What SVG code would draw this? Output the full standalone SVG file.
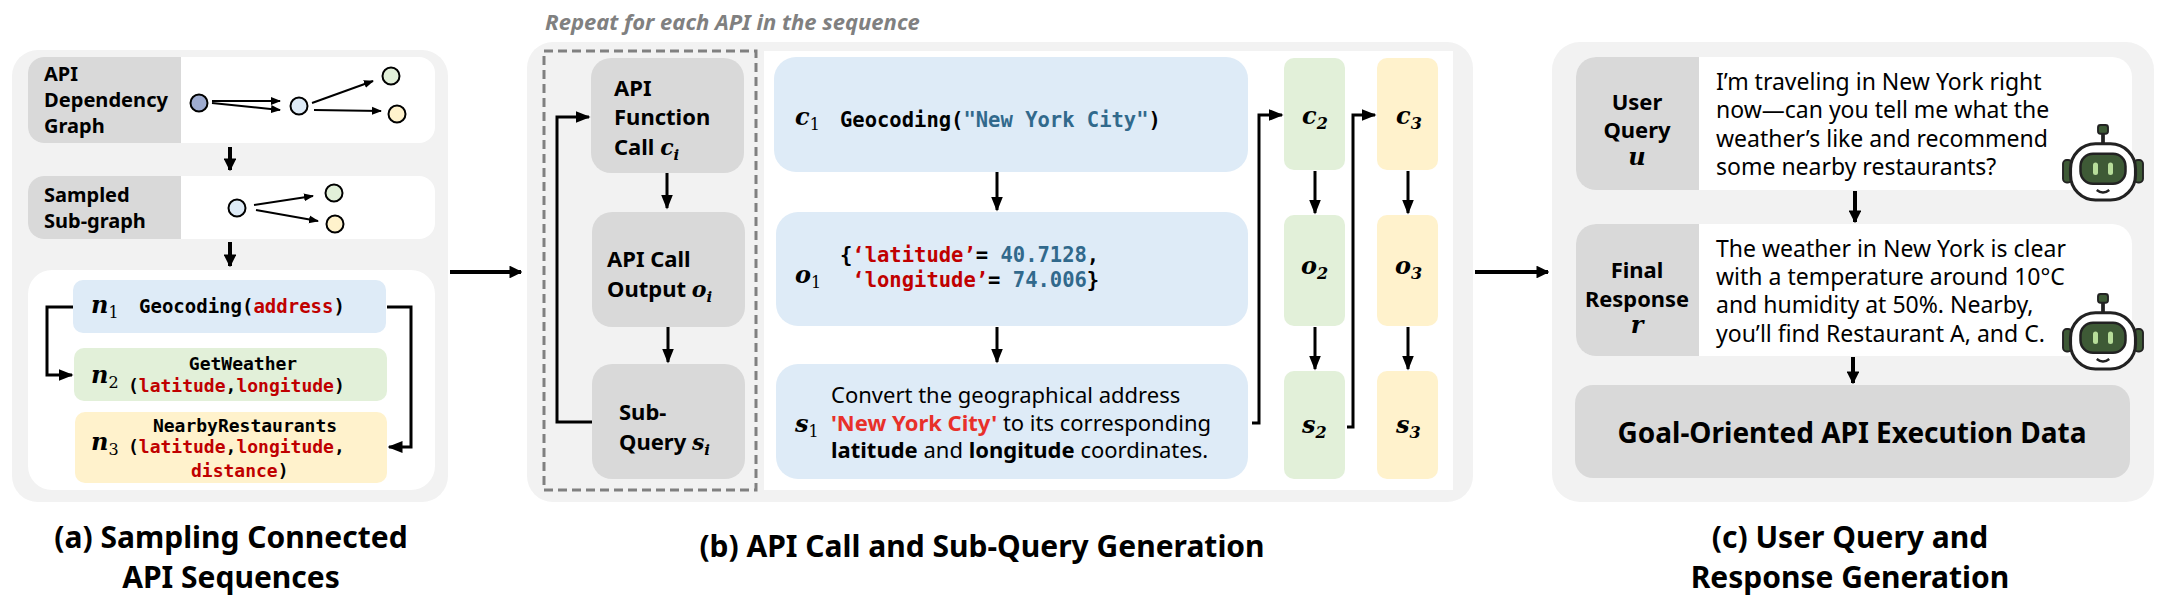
<svg xmlns="http://www.w3.org/2000/svg" width="2164" height="616" viewBox="0 0 2164 616">
<defs>
<style>
.pan{fill:#f2f2f2}
.wh{fill:#ffffff}
.lab{fill:#d9d9d9}
.bl{fill:#deebf7}
.gr{fill:#e2f0d9}
.ye{fill:#fff2cc}
.t{font-family:"Noto Sans","DejaVu Sans",sans-serif;fill:#000}
.b{font-weight:bold}
.m{font-family:"DejaVu Sans Mono","Liberation Mono",monospace;font-weight:bold;fill:#000}
.r{fill:#c00000}
.cb{fill:#31698c}
.mi{font-family:"DejaVu Serif","Liberation Serif",serif;font-style:italic;font-weight:bold;fill:#000}
.ln{stroke:#000;stroke-width:4;fill:none}
.thin{stroke:#000;stroke-width:2;fill:none}
.nd{stroke:#000;stroke-width:2}
</style>
<marker id="ah" viewBox="0 0 10 10" refX="9" refY="5" markerWidth="3.2" markerHeight="3.2" orient="auto"><path d="M0,0L10,5L0,10z" fill="#000"/></marker>
<marker id="as" viewBox="0 0 10 10" refX="9" refY="5" markerWidth="5" markerHeight="5" orient="auto"><path d="M0,1L10,5L0,9z" fill="#000"/></marker>
<g id="robot">
<line x1="0" y1="-30" x2="0" y2="-20" stroke="#222" stroke-width="3"/>
<rect x="-4" y="-36" width="8" height="7" rx="2" fill="#3e5a36" stroke="#222" stroke-width="1.5"/>
<rect x="-32" y="-8" width="7" height="18" rx="3" fill="#3e5a36" stroke="#222" stroke-width="1.5"/>
<rect x="25" y="-8" width="7" height="18" rx="3" fill="#3e5a36" stroke="#222" stroke-width="1.5"/>
<rect x="-26" y="-21" width="52" height="45" rx="20" fill="#fff" stroke="#222" stroke-width="2.5"/>
<rect x="-18" y="-13" width="36" height="24" rx="10" fill="#3e5a36" stroke="#222" stroke-width="2"/>
<rect x="-8" y="-6" width="4" height="10" rx="2" fill="#b7dd9a"/>
<rect x="4" y="-6" width="4" height="10" rx="2" fill="#b7dd9a"/>
<path d="M-5,16 Q0,20 5,16" stroke="#222" stroke-width="2" fill="none"/>
</g>
</defs>
<rect width="2164" height="616" fill="#fff"/>

<g id="panel-a">
<rect class="pan" x="12" y="50" width="436" height="452" rx="26"/>
<g id="dep-graph">
<rect class="wh" x="28" y="57" width="407" height="86" rx="16"/>
<path class="lab" d="M44,57H181V143H44A16,16 0 0 1 28,127V73A16,16 0 0 1 44,57z"/>
<text class="t b" font-size="20" x="44" y="81">API</text>
<text class="t b" font-size="20" x="44" y="107" textLength="124" lengthAdjust="spacingAndGlyphs">Dependency</text>
<text class="t b" font-size="20" x="44" y="133">Graph</text>
<circle class="nd" cx="199" cy="103" r="8.5" fill="#9eabcf"/>
<circle class="nd" cx="299" cy="106" r="8.5" fill="#deebf7"/>
<circle class="nd" cx="391" cy="76" r="8.5" fill="#e2f0d9"/>
<circle class="nd" cx="397" cy="114" r="8.5" fill="#fff2cc"/>
<line class="thin" x1="212" y1="101" x2="280" y2="101" marker-end="url(#as)"/>
<line class="thin" x1="212" y1="103" x2="280" y2="110" marker-end="url(#as)"/>
<line class="thin" x1="312" y1="103" x2="373" y2="81" marker-end="url(#as)"/>
<line class="thin" x1="314" y1="110" x2="381" y2="111" marker-end="url(#as)"/>
</g>
<g id="subgraph">
<rect class="wh" x="28" y="176" width="407" height="63" rx="16"/>
<path class="lab" d="M44,176H181V239H44A16,16 0 0 1 28,223V192A16,16 0 0 1 44,176z"/>
<text class="t b" font-size="20" x="44" y="202">Sampled</text>
<text class="t b" font-size="20" x="44" y="228">Sub-graph</text>
<circle class="nd" cx="237" cy="208" r="8.5" fill="#deebf7"/>
<circle class="nd" cx="334" cy="193" r="8.5" fill="#e2f0d9"/>
<circle class="nd" cx="335" cy="224" r="8.5" fill="#fff2cc"/>
<line class="thin" x1="254" y1="205" x2="313" y2="196" marker-end="url(#as)"/>
<line class="thin" x1="256" y1="210" x2="318" y2="221" marker-end="url(#as)"/>
</g>
<rect class="wh" x="28" y="270" width="407" height="220" rx="24"/>
<g id="n1">
<rect class="bl" x="73" y="280" width="313" height="53" rx="10"/>
<text class="mi" font-size="24" x="91" y="313">n<tspan font-size="16" dy="5" font-style="normal" font-weight="normal">1</tspan></text>
<text class="m" font-size="19" x="139" y="313">Geocoding(<tspan class="r">address</tspan>)</text>
</g>
<g id="n2">
<rect class="gr" x="74" y="348" width="313" height="53" rx="10"/>
<text class="mi" font-size="24" x="91" y="383">n<tspan font-size="16" dy="5" font-style="normal" font-weight="normal">2</tspan></text>
<text class="m" font-size="18" x="243" y="370" text-anchor="middle">GetWeather</text>
<text class="m" font-size="18" x="128" y="392">(<tspan class="r">latitude</tspan>,<tspan class="r">longitude</tspan>)</text>
</g>
<g id="n3">
<rect class="ye" x="75" y="412" width="312" height="71" rx="10"/>
<text class="mi" font-size="24" x="91" y="450">n<tspan font-size="16" dy="5" font-style="normal" font-weight="normal">3</tspan></text>
<text class="m" font-size="18" x="245" y="432" text-anchor="middle">NearbyRestaurants</text>
<text class="m" font-size="18" x="128" y="453">(<tspan class="r">latitude</tspan>,<tspan class="r">longitude</tspan>,</text>
<text class="m" font-size="18" x="191" y="477"><tspan class="r">distance</tspan>)</text>
</g>
</g>

<g id="panel-b">
<text class="t b" font-size="22" font-style="italic" style="fill:#808080" x="545" y="30">Repeat for each API in the sequence</text>
<rect class="pan" x="527" y="42" width="946" height="460" rx="26"/>
<rect class="wh" x="764" y="51" width="689" height="439"/>
<rect x="544" y="51" width="212" height="439" fill="none" stroke="#808080" stroke-width="3" stroke-dasharray="9,5"/>
<g id="func-call">
<rect class="lab" x="591" y="58" width="153" height="115" rx="20"/>
<text class="t b" font-size="22" x="614" y="96">API</text>
<text class="t b" font-size="22" x="614" y="125">Function</text>
<text class="t b" font-size="22" x="614" y="155">Call <tspan class="mi">c<tspan font-size="15" dy="5">i</tspan></tspan></text>
</g>
<g id="call-output">
<rect class="lab" x="592" y="212" width="153" height="115" rx="20"/>
<text class="t b" font-size="22" x="607" y="267">API Call</text>
<text class="t b" font-size="22" x="607" y="297">Output <tspan class="mi">o<tspan font-size="15" dy="5">i</tspan></tspan></text>
</g>
<g id="subquery">
<rect class="lab" x="592" y="364" width="153" height="115" rx="20"/>
<text class="t b" font-size="22" x="619" y="420">Sub-</text>
<text class="t b" font-size="22" x="619" y="450">Query <tspan class="mi">s<tspan font-size="15" dy="5">i</tspan></tspan></text>
</g>
<g id="c1">
<rect class="bl" x="774" y="57" width="474" height="115" rx="22"/>
<text class="mi" font-size="24" x="795" y="125">c<tspan font-size="16" dy="5" font-style="normal" font-weight="normal">1</tspan></text>
<text class="m" font-size="20.5" x="840" y="127">Geocoding(<tspan class="cb">"New York City"</tspan>)</text>
</g>
<g id="o1">
<rect class="bl" x="776" y="212" width="472" height="114" rx="22"/>
<text class="mi" font-size="24" x="795" y="283">o<tspan font-size="16" dy="5" font-style="normal" font-weight="normal">1</tspan></text>
<text class="m" font-size="20.5" x="840" y="262">{<tspan class="r">‘latitude’</tspan>= <tspan class="cb">40.7128</tspan>,</text>
<text class="m" font-size="20.5" x="840" y="287" xml:space="preserve"> <tspan class="r">‘longitude’</tspan>= <tspan class="cb">74.006</tspan>}</text>
</g>
<g id="s1">
<rect class="bl" x="776" y="364" width="472" height="115" rx="22"/>
<text class="mi" font-size="24" x="795" y="432">s<tspan font-size="16" dy="5" font-style="normal" font-weight="normal">1</tspan></text>
<text class="t" font-size="22" x="831" y="403">Convert the geographical address</text>
<text class="t" font-size="22" x="831" y="431"><tspan class="b" fill="#e8302a">'New York City'</tspan> to its corresponding</text>
<text class="t" font-size="22" x="831" y="458"><tspan class="b">latitude</tspan> and <tspan class="b">longitude</tspan> coordinates.</text>
</g>
<g id="c2"><rect class="gr" x="1284" y="58" width="61" height="112" rx="10"/><text class="mi" font-size="24" x="1302" y="124">c<tspan font-size="16" dy="5">2</tspan></text></g>
<g id="o2"><rect class="gr" x="1284" y="215" width="61" height="111" rx="10"/><text class="mi" font-size="24" x="1301" y="274">o<tspan font-size="16" dy="5">2</tspan></text></g>
<g id="s2"><rect class="gr" x="1284" y="371" width="61" height="108" rx="10"/><text class="mi" font-size="24" x="1302" y="433">s<tspan font-size="16" dy="5">2</tspan></text></g>
<g id="c3"><rect class="ye" x="1377" y="58" width="61" height="112" rx="10"/><text class="mi" font-size="24" x="1396" y="124">c<tspan font-size="16" dy="5">3</tspan></text></g>
<g id="o3"><rect class="ye" x="1377" y="215" width="61" height="111" rx="10"/><text class="mi" font-size="24" x="1395" y="274">o<tspan font-size="16" dy="5">3</tspan></text></g>
<g id="s3"><rect class="ye" x="1377" y="371" width="61" height="108" rx="10"/><text class="mi" font-size="24" x="1396" y="433">s<tspan font-size="16" dy="5">3</tspan></text></g>
</g>

<g id="panel-c">
<rect class="pan" x="1552" y="42" width="602" height="460" rx="28"/>
<g id="user-query">
<rect class="wh" x="1576" y="57" width="556" height="133" rx="20"/>
<path class="lab" d="M1596,57H1699V190H1596A20,20 0 0 1 1576,170V77A20,20 0 0 1 1596,57z"/>
<text class="t b" font-size="22" x="1637" y="110" text-anchor="middle">User</text>
<text class="t b" font-size="22" x="1637" y="138" text-anchor="middle">Query</text>
<text class="mi" font-size="24" x="1637" y="165" text-anchor="middle">u</text>
<text class="t" font-size="23" x="1716" y="90">I’m traveling in New York right</text>
<text class="t" font-size="23" x="1716" y="118">now—can you tell me what the</text>
<text class="t" font-size="23" x="1716" y="147">weather’s like and recommend</text>
<text class="t" font-size="23" x="1716" y="175">some nearby restaurants?</text>
<use href="#robot" transform="translate(2103,170) scale(1.25)"/>
</g>
<g id="final-response">
<rect class="wh" x="1576" y="224" width="556" height="132" rx="20"/>
<path class="lab" d="M1596,224H1699V356H1596A20,20 0 0 1 1576,336V244A20,20 0 0 1 1596,224z"/>
<text class="t b" font-size="22" x="1637" y="278" text-anchor="middle">Final</text>
<text class="t b" font-size="22" x="1637" y="307" text-anchor="middle" textLength="104" lengthAdjust="spacingAndGlyphs">Response</text>
<text class="mi" font-size="24" x="1637" y="333" text-anchor="middle">r</text>
<text class="t" font-size="23" x="1716" y="257">The weather in New York is clear</text>
<text class="t" font-size="23" x="1716" y="285">with a temperature around 10°C</text>
<text class="t" font-size="23" x="1716" y="313">and humidity at 50%. Nearby,</text>
<text class="t" font-size="23" x="1716" y="342">you’ll find Restaurant A, and C.</text>
<use href="#robot" transform="translate(2103,339) scale(1.25)"/>
</g>
<g id="goal-data">
<rect class="lab" x="1575" y="385" width="555" height="93" rx="18"/>
<text class="t b" font-size="28" x="1852" y="443" text-anchor="middle">Goal-Oriented API Execution Data</text>
</g>
</g>

<g id="connectors">
<line class="ln" x1="230" y1="147" x2="230" y2="170" marker-end="url(#ah)"/>
<line class="ln" x1="230" y1="242" x2="230" y2="266" marker-end="url(#ah)"/>
<polyline class="thin" style="stroke-width:3" points="73,307 47,307 47,375 72,375" marker-end="url(#as)"/>
<polyline class="thin" style="stroke-width:3" points="387,307 411,307 411,447 389,447" marker-end="url(#as)"/>
<line class="ln" x1="450" y1="272" x2="521" y2="272" marker-end="url(#ah)"/>
<line class="thin" style="stroke-width:3" x1="667" y1="173" x2="667" y2="208" marker-end="url(#as)"/>
<line class="thin" style="stroke-width:3" x1="668" y1="327" x2="668" y2="362" marker-end="url(#as)"/>
<polyline class="thin" style="stroke-width:3" points="592,422 557,422 557,117 589,117" marker-end="url(#as)"/>
<line class="thin" style="stroke-width:3" x1="997" y1="172" x2="997" y2="210" marker-end="url(#as)"/>
<line class="thin" style="stroke-width:3" x1="997" y1="327" x2="997" y2="362" marker-end="url(#as)"/>
<polyline class="thin" style="stroke-width:3" points="1252,423 1259,423 1259,115 1282,115" marker-end="url(#as)"/>
<polyline class="thin" style="stroke-width:3" points="1347,427 1353,427 1353,115 1375,115" marker-end="url(#as)"/>
<line class="thin" style="stroke-width:3" x1="1315" y1="171" x2="1315" y2="213" marker-end="url(#as)"/>
<line class="thin" style="stroke-width:3" x1="1315" y1="327" x2="1315" y2="369" marker-end="url(#as)"/>
<line class="thin" style="stroke-width:3" x1="1408" y1="171" x2="1408" y2="213" marker-end="url(#as)"/>
<line class="thin" style="stroke-width:3" x1="1408" y1="327" x2="1408" y2="369" marker-end="url(#as)"/>
<line class="ln" x1="1475" y1="272" x2="1548" y2="272" marker-end="url(#ah)"/>
<line class="ln" x1="1855" y1="191" x2="1855" y2="222" marker-end="url(#ah)"/>
<line class="ln" x1="1853" y1="357" x2="1853" y2="383" marker-end="url(#ah)"/>
</g>

<text class="t b" font-size="30" x="231" y="548" text-anchor="middle">(a) Sampling Connected</text>
<text class="t b" font-size="30" x="231" y="588" text-anchor="middle">API Sequences</text>
<text class="t b" font-size="30" x="982" y="557" text-anchor="middle">(b) API Call and Sub-Query Generation</text>
<text class="t b" font-size="30" x="1850" y="548" text-anchor="middle">(c) User Query and</text>
<text class="t b" font-size="30" x="1850" y="588" text-anchor="middle">Response Generation</text>
</svg>
